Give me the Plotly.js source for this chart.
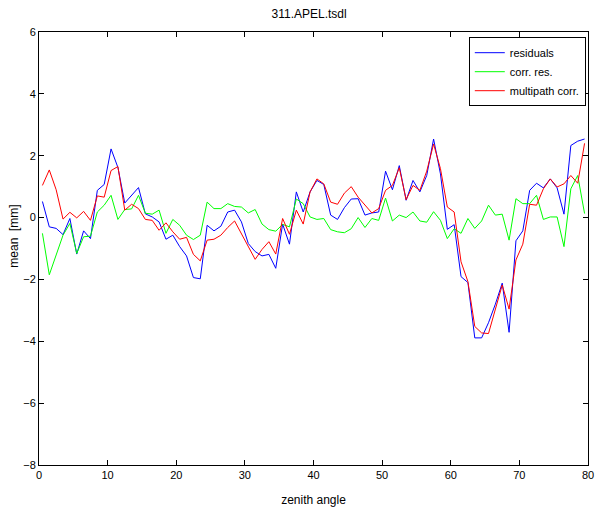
<!DOCTYPE html>
<html>
<head>
<meta charset="utf-8">
<script src="https://cdn.plot.ly/plotly-3.0.1.min.js"></script>
<style>
  html, body { margin: 0; padding: 0; background: #fff; }
  #GRAPH { width: 600px; height: 507px; }
</style>
</head>
<body>
<div id="GRAPH"></div>
<script>
// bin centres of the zenith angle
var zenith = [0.5, 1.5, 2.5, 3.5, 4.5, 5.5, 6.5, 7.5, 8.5, 9.5,
  10.5, 11.5, 12.5, 13.5, 14.5, 15.5, 16.5, 17.5, 18.5, 19.5,
  20.5, 21.5, 22.5, 23.5, 24.5, 25.5, 26.5, 27.5, 28.5, 29.5,
  30.5, 31.5, 32.5, 33.5, 34.5, 35.5, 36.5, 37.5, 38.5, 39.5,
  40.5, 41.5, 42.5, 43.5, 44.5, 45.5, 46.5, 47.5, 48.5, 49.5,
  50.5, 51.5, 52.5, 53.5, 54.5, 55.5, 56.5, 57.5, 58.5, 59.5,
  60.5, 61.5, 62.5, 63.5, 64.5, 65.5, 66.5, 67.5, 68.5, 69.5,
  70.5, 71.5, 72.5, 73.5, 74.5, 75.5, 76.5, 77.5, 78.5, 79.5];

var residuals = [0.52, -0.30, -0.35, -0.55, -0.03, -1.18, -0.43, -0.68, 0.88, 1.07,
  2.22, 1.62, 0.47, 0.72, 0.97, 0.12, 0.02, -0.14, -0.70, -0.57,
  -0.94, -1.24, -1.94, -1.98, -0.25, -0.43, -0.28, 0.18, 0.24, -0.14,
  -0.84, -1.10, -1.24, -1.19, -1.64, -0.21, -0.86, 0.83, 0.18, 0.83,
  1.20, 1.07, 0.08, -0.06, 0.32, 0.60, 0.61, 0.08, 0.15, 0.18,
  1.50, 0.90, 1.68, 0.56, 1.20, 0.83, 1.36, 2.54, 1.41, -0.38,
  -0.23, -1.91, -2.10, -3.89, -3.89, -3.40, -2.80, -2.12, -3.71, -0.75,
  -0.43, 0.88, 1.11, 0.96, 1.25, 0.96, 0.11, 2.33, 2.47, 2.54];

var corrRes = [-0.51, -1.85, -1.21, -0.57, -0.19, -1.16, -0.62, -0.60, 0.18, 0.40,
  0.72, -0.06, 0.26, 0.28, 0.72, 0.14, 0.11, 0.24, -0.51, -0.06,
  -0.25, -0.57, -0.71, -0.57, 0.50, 0.29, 0.29, 0.45, 0.36, 0.34,
  0.15, 0.26, -0.21, -0.39, -0.44, -0.22, -0.30, 0.60, 0.45, 0.02,
  -0.06, -0.03, -0.39, -0.46, -0.49, -0.36, 0.00, -0.32, -0.03, -0.09,
  0.63, -0.11, 0.08, 0.00, 0.18, -0.11, -0.15, 0.19, -0.09, -0.68,
  -0.36, -0.51, -0.03, -0.35, -0.11, 0.40, 0.08, 0.11, -0.73, 0.61,
  0.45, 0.45, 0.72, -0.06, 0.02, 0.02, -0.94, 0.93, 1.36, 0.13];

var multipath = [1.04, 1.54, 0.90, -0.05, 0.17, -0.01, 0.20, -0.09, 0.70, 0.66,
  1.52, 1.65, 0.24, 0.43, 0.29, -0.06, -0.09, -0.41, -0.17, -0.46,
  -0.70, -0.64, -1.19, -1.40, -0.73, -0.70, -0.57, -0.32, -0.11, -0.51,
  -0.92, -1.35, -1.03, -0.78, -1.18, -0.03, -0.54, 0.24, -0.21, 0.83,
  1.25, 1.09, 0.50, 0.43, 0.79, 1.00, 0.66, 0.40, 0.15, 0.29,
  0.88, 1.04, 1.61, 0.58, 1.04, 0.88, 1.50, 2.38, 1.58, 0.34,
  0.18, -1.43, -2.07, -3.52, -3.73, -3.75, -2.98, -2.18, -2.96, -1.37,
  -0.86, 0.43, 0.40, 0.93, 1.25, 0.99, 1.09, 1.36, 1.11, 2.40];

var xTicks = [0, 10, 20, 30, 40, 50, 60, 70, 80];
var yTicks = [-8, -6, -4, -2, 0, 2, 4, 6];

function lineTrace(ys, name, color) {
  return {
    x: zenith,
    y: ys,
    type: 'scatter',
    mode: 'lines',
    name: name,
    line: { color: color, width: 1 }
  };
}

var traces = [
  lineTrace(residuals, 'residuals', '#0000ff'),
  lineTrace(corrRes, 'corr. res.', '#00ff00'),
  lineTrace(multipath, 'multipath corr.', '#ff0000')
];

var axisStyle = {
  showline: true,
  linecolor: '#000',
  linewidth: 1,
  mirror: 'ticks',
  ticks: 'inside',
  ticklen: 5,
  tickcolor: '#000',
  showgrid: false,
  zeroline: false,
  tickfont: { size: 11, color: '#000' }
};

var layout = {
  width: 600,
  height: 507,
  paper_bgcolor: '#fff',
  plot_bgcolor: '#fff',
  font: { family: '"Liberation Sans", Arial, sans-serif', size: 11, color: '#000' },
  margin: { l: 39, r: 12, t: 32, b: 42, pad: 0 },
  title: { text: '311.APEL.tsdl', font: { size: 12 }, x: 0.492, xref: 'paper', y: 0.972, yanchor: 'middle' },
  xaxis: Object.assign({}, axisStyle, {
    range: [0, 80],
    tickvals: xTicks,
    title: { text: 'zenith angle', font: { size: 12 }, standoff: 15 }
  }),
  yaxis: Object.assign({}, axisStyle, {
    range: [-8, 6],
    tickvals: yTicks
  }),
  // y label sits close to the tick labels, like the matlab figure
  annotations: [{
    text: 'mean\u00a0\u00a0[mm]',
    xref: 'paper', yref: 'paper',
    x: -0.046, y: 0.529,
    xanchor: 'center', yanchor: 'middle',
    textangle: -90,
    showarrow: false,
    font: { size: 12 }
  }],
  showlegend: true,
  legend: {
    x: 0.996,
    xanchor: 'right',
    y: 0.988,
    yanchor: 'top',
    bgcolor: '#fff',
    bordercolor: '#000',
    borderwidth: 1,
    font: { size: 11 },
    tracegroupgap: 0
  }
};

Plotly.newPlot('GRAPH', traces, layout, { displayModeBar: false, staticPlot: true });
</script>
</body>
</html>
